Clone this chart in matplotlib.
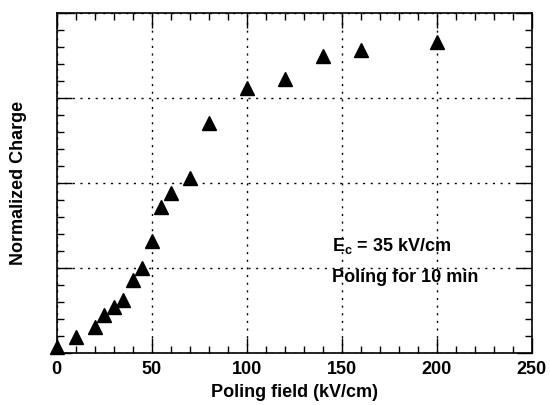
import numpy as np
import matplotlib.pyplot as plt
from matplotlib.ticker import MultipleLocator, NullFormatter

plt.rcParams['font.family'] = ['Liberation Sans', 'DejaVu Sans']
plt.rcParams['font.weight'] = 'bold'
plt.rcParams['mathtext.fontset'] = 'custom'
plt.rcParams['mathtext.rm'] = 'Liberation Sans:bold'
plt.rcParams['mathtext.it'] = 'Liberation Sans:bold'

# poling field (kV/cm) and normalized charge (arbitrary units)
field = [0, 10, 20, 25, 30, 35, 40, 45, 50, 55, 60, 70, 80, 100, 120, 140, 160, 200]
charge = [0.019, 0.048, 0.077, 0.112, 0.137, 0.156, 0.215, 0.249, 0.330, 0.430,
          0.470, 0.514, 0.677, 0.778, 0.806, 0.873, 0.891, 0.916]

fig = plt.figure(figsize=(5.5, 4.05), dpi=100)
ax = fig.add_axes([0.103, 0.128, 0.864, 0.840])

ax.plot(field, charge, '^', color='black', markersize=10, clip_on=False, zorder=3)

ax.set_xlim(0, 250)
ax.set_ylim(0, 1)
ax.xaxis.set_major_locator(MultipleLocator(50))
ax.xaxis.set_minor_locator(MultipleLocator(10))
ax.yaxis.set_major_locator(MultipleLocator(0.25))
ax.yaxis.set_minor_locator(MultipleLocator(0.05))
ax.yaxis.set_major_formatter(NullFormatter())

ax.tick_params(which='both', direction='in', top=True, right=True, width=1)
ax.tick_params(which='major', length=11, labelsize=13, pad=6)
ax.tick_params(which='minor', length=5)
for lab in ax.get_xticklabels():
    lab.set_fontweight('bold')

ax.grid(True, which='major', color='black', linestyle=(0, (1.5, 4)), linewidth=1)
for sp in ax.spines.values():
    sp.set_linewidth(1.2)

ax.set_xlabel('Poling field (kV/cm)', fontsize=13, fontweight='bold', labelpad=4)
ax.set_ylabel('Normalized Charge', fontsize=13, fontweight='bold', labelpad=15)

ax.text(145, 0.30, 'E$_{c}$ = 35 kV/cm', fontsize=13, fontweight='bold')
ax.text(145, 0.21, 'Poling for 10 min', fontsize=13, fontweight='bold')

fig.savefig('out.png', dpi=100)
